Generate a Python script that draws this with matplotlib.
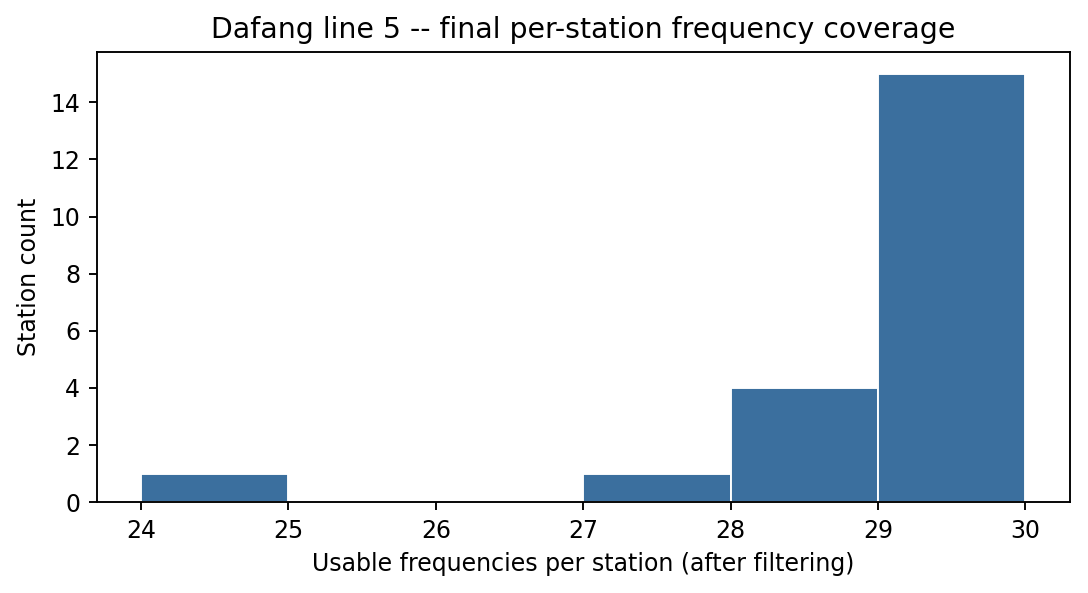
import matplotlib
matplotlib.use("Agg")
import matplotlib.pyplot as plt

# данные гистограммы: левые границы бинов и число станций
bin_lefts = [24, 25, 26, 27, 28, 29]
station_counts = [1, 0, 0, 1, 4, 15]
x_ticks = [24, 25, 26, 27, 28, 29, 30]

DPI = 170
fig = plt.figure(figsize=(1088 / DPI, 593 / DPI), dpi=DPI)
ax = fig.add_axes([0.089, 0.153, 0.894, 0.759])

ax.bar(bin_lefts, station_counts, width=1, align='edge',
       color='#3b6f9e', edgecolor='white', linewidth=0.8)

ax.set_xticks(x_ticks)
ax.set_yticks(range(0, 15, 2))
ax.set_xlabel('Usable frequencies per station (after filtering)')
ax.set_ylabel('Station count')
ax.set_title('Dafang line 5 -- final per-station frequency coverage', fontsize=12)

fig.savefig('out.png', dpi=DPI)
